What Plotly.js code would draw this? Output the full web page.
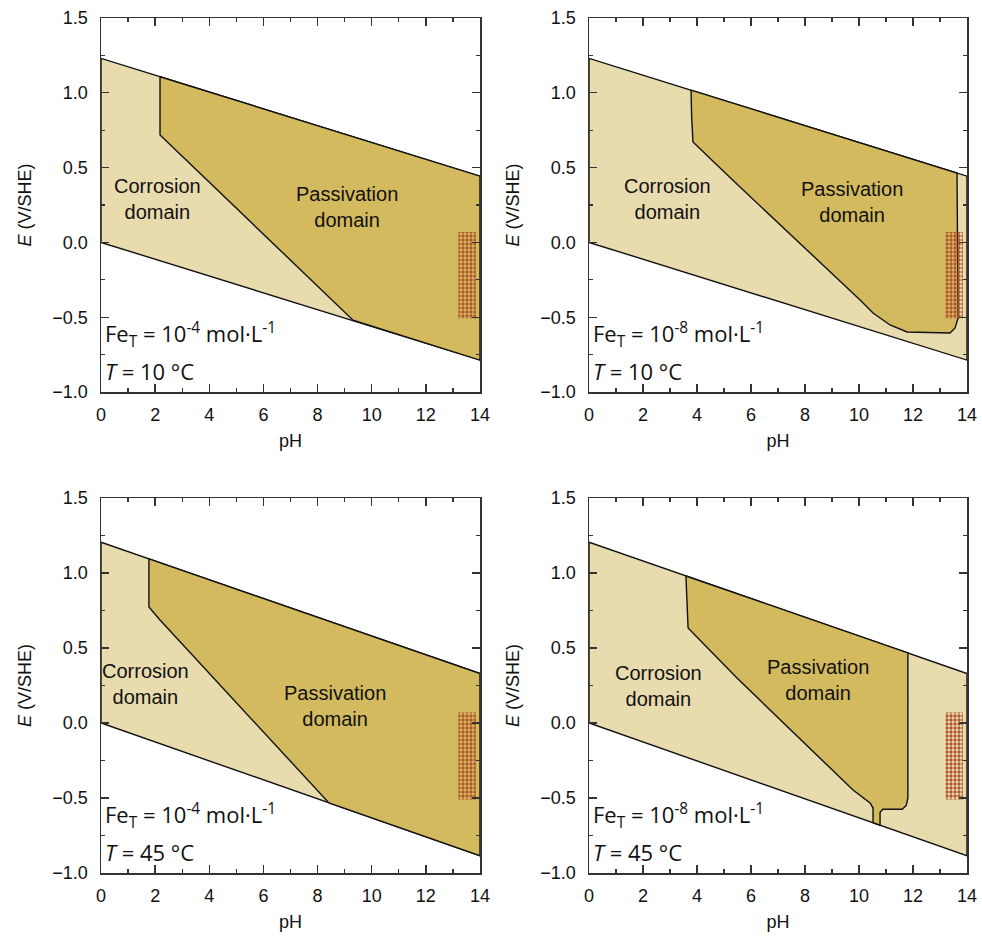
<!DOCTYPE html>
<html>
<head>
<meta charset="utf-8">
<script src="https://cdn.plot.ly/plotly-3.0.1.min.js"></script>
<style>html,body{margin:0;padding:0;background:#fff;}#chart{width:982px;height:939px;}</style>
</head>
<body>
<div id="chart"></div>
<script>
// ---------- data ----------
const pHEdges = [0, 14];
// water stability lines (E at pH 0 and pH 14)
const upper10 = [1.23, 0.443];
const lower10 = [0, -0.787];
const upper45 = [1.205, 0.33];
const lower45 = [0, -0.885];

// passivation domain boundaries (pH, E)
const p1BndPH = [2.18, 2.18, 9.31];
const p1BndE  = [1.107, 0.718, -0.52];

const p2BndPH = [3.78, 3.80, 3.85, 5.30, 10.04, 10.52, 11.15, 11.78, 13.37, 13.56, 13.67, 13.63];
const p2BndE  = [1.018, 0.85, 0.671, 0.42, -0.385, -0.472, -0.552, -0.599, -0.606, -0.572, -0.505, 0.464];

const p3BndPH = [1.77, 1.77, 2.18, 8.42];
const p3BndE  = [1.094, 0.773, 0.687, -0.533];

const p4BndPH = [3.59, 3.63, 3.67, 5.48, 9.04, 9.78, 10.41, 10.52, 10.52, 10.78, 10.78, 10.88, 11.6, 11.75, 11.81, 11.81];
const p4BndE  = [0.98, 0.80, 0.633, 0.30, -0.313, -0.447, -0.533, -0.567, -0.665, -0.681, -0.595, -0.575, -0.575, -0.55, -0.50, 0.467];

// hatched zone
const hatchPH = [13.2, 13.85];
const hatchE  = [0.07, -0.51];

const feLabels = ["10<sup>-4</sup>", "10<sup>-8</sup>", "10<sup>-4</sup>", "10<sup>-8</sup>"];
const tLabels = ["10 °C", "10 °C", "45 °C", "45 °C"];
const corrPos = [[2.07, 0.287], [2.89, 0.287], [1.63, 0.257], [2.59, 0.25]];
const passPos = [[9.09, 0.237], [9.74, 0.267], [8.64, 0.113], [8.48, 0.29]];

// ---------- styles ----------
const LIGHT = '#E8DBAE';
const DARK = '#D3BA5F';
const FONT = 'Liberation Sans, Arial, sans-serif';
const ANNFONT = 'Open Sans, sans-serif';

const panels = [
  {up: upper10, lo: lower10, bx: p1BndPH, by: p1BndE, closeRight: true},
  {up: upper10, lo: lower10, bx: p2BndPH, by: p2BndE, closeRight: false},
  {up: upper45, lo: lower45, bx: p3BndPH, by: p3BndE, closeRight: true},
  {up: upper45, lo: lower45, bx: p4BndPH, by: p4BndE, closeRight: false}
];

const traces = [];
const annotations = [];
panels.forEach((p, i) => {
  const xa = 'x' + (i === 0 ? '' : i + 1);
  const ya = 'y' + (i === 0 ? '' : i + 1);
  // water stability region
  traces.push({
    x: [pHEdges[0], pHEdges[1], pHEdges[1], pHEdges[0], pHEdges[0]],
    y: [p.up[0], p.up[1], p.lo[1], p.lo[0], p.up[0]],
    xaxis: xa, yaxis: ya, mode: 'lines', fill: 'toself', fillcolor: LIGHT,
    line: {color: '#111', width: 1.4}, hoverinfo: 'skip', showlegend: false
  });
  // passivation domain
  let px = p.bx.slice(), py = p.by.slice();
  if (p.closeRight) {
    px.push(pHEdges[1], pHEdges[1]);
    py.push(p.lo[1], p.up[1]);
  }
  px.push(p.bx[0]); py.push(p.by[0]);
  traces.push({
    x: px, y: py, xaxis: xa, yaxis: ya, mode: 'lines', fill: 'toself', fillcolor: DARK,
    line: {color: '#111', width: 1.4}, hoverinfo: 'skip', showlegend: false
  });
  // hatched zone
  traces.push({
    x: [hatchPH[0], hatchPH[1], hatchPH[1], hatchPH[0], hatchPH[0]],
    y: [hatchE[0], hatchE[0], hatchE[1], hatchE[1], hatchE[0]],
    xaxis: xa, yaxis: ya, mode: 'lines', fill: 'toself', fillcolor: 'rgba(0,0,0,0)',
    fillpattern: {shape: '.', fgcolor: '#B2562F', bgcolor: 'rgba(0,0,0,0)', size: 4, solidity: 0.55},
    line: {width: 0}, hoverinfo: 'skip', showlegend: false
  });
  annotations.push({
    xref: xa, yref: ya, x: corrPos[i][0], y: corrPos[i][1], text: 'Corrosion<br>domain',
    showarrow: false, font: {family: FONT, size: 20, color: '#111'}
  });
  annotations.push({
    xref: xa, yref: ya, x: passPos[i][0], y: passPos[i][1], text: 'Passivation<br>domain',
    showarrow: false, font: {family: FONT, size: 20, color: '#111'}
  });
  annotations.push({
    xref: xa, yref: ya, x: 0.08, y: -0.615, xanchor: 'left', yanchor: 'middle',
    text: 'Fe<sub>T</sub> = ' + feLabels[i] + ' mol·L<sup>-1</sup>',
    showarrow: false, font: {family: ANNFONT, size: 22, color: '#111'}
  });
  annotations.push({
    xref: xa, yref: ya, x: 0.08, y: -0.86, xanchor: 'left', yanchor: 'middle',
    text: '<i>T</i> = ' + tLabels[i],
    showarrow: false, font: {family: ANNFONT, size: 22, color: '#111'}
  });
});

const W = 982, H = 939;
const xDom = [[101 / W, 480 / W], [589 / W, 967 / W]];
const yDom = [[(H - 392) / H, (H - 18) / H], [(H - 873) / H, (H - 498) / H]];

function xaxis(dom, anchor) {
  return {
    domain: dom, anchor: anchor, range: [0, 14], dtick: 2, tick0: 0,
    ticks: 'inside', ticklen: 8, tickwidth: 1.3, tickcolor: '#333',
    minor: {dtick: 1, ticks: 'inside', ticklen: 4, tickwidth: 1.2, tickcolor: '#333'},
    showline: true, linecolor: '#333', linewidth: 1.5, mirror: 'ticks',
    showgrid: false, zeroline: false, layer: 'above traces',
    tickfont: {family: FONT, size: 18, color: '#111'}, ticklabelstandoff: 6,
    title: {text: 'pH', font: {family: FONT, size: 18, color: '#111'}, standoff: 10}
  };
}
function yaxis(dom, anchor) {
  return {
    domain: dom, anchor: anchor, range: [-1, 1.5], dtick: 0.5, tick0: 0,
    tickformat: '.1f',
    ticks: 'inside', ticklen: 8, tickwidth: 1.3, tickcolor: '#333',
    minor: {dtick: 0.25, ticks: 'inside', ticklen: 4, tickwidth: 1.2, tickcolor: '#333'},
    showline: true, linecolor: '#333', linewidth: 1.5, mirror: 'ticks',
    showgrid: false, zeroline: false, layer: 'above traces',
    tickfont: {family: FONT, size: 18, color: '#111'}, ticklabelstandoff: 8,
    title: {text: '<i>E</i> (V/SHE)', font: {family: FONT, size: 18, color: '#111'}, standoff: 16}
  };
}

const layout = {
  width: W, height: H, margin: {l: 0, r: 0, t: 0, b: 0},
  paper_bgcolor: '#fff', plot_bgcolor: '#fff', showlegend: false,
  xaxis: xaxis(xDom[0], 'y'), yaxis: yaxis(yDom[0], 'x'),
  xaxis2: xaxis(xDom[1], 'y2'), yaxis2: yaxis(yDom[0], 'x2'),
  xaxis3: xaxis(xDom[0], 'y3'), yaxis3: yaxis(yDom[1], 'x3'),
  xaxis4: xaxis(xDom[1], 'y4'), yaxis4: yaxis(yDom[1], 'x4'),
  annotations: annotations
};

Plotly.newPlot('chart', traces, layout, {displayModeBar: false, staticPlot: true});
</script>
</body>
</html>
